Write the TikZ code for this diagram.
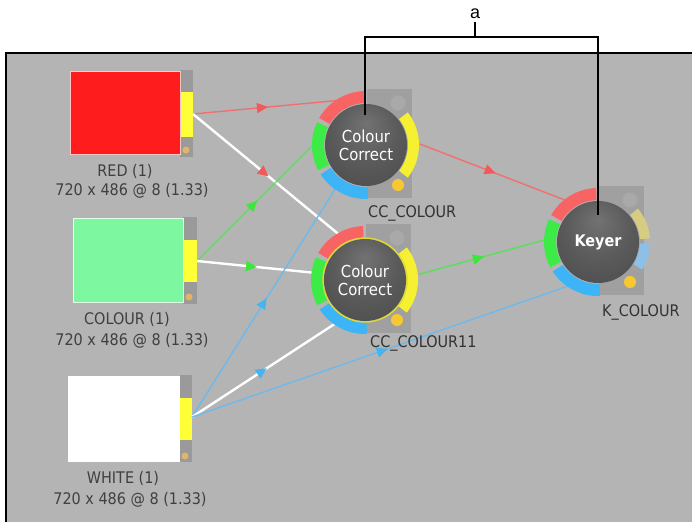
\documentclass[tikz,border=0pt]{standalone}
\usepackage{fontspec}
\newfontfamily\labfont{DejaVu Sans Condensed}
\newfontfamily\afont{Liberation Sans}
\usetikzlibrary{arrows.meta,decorations.markings}
\definecolor{panelc}{HTML}{B4B4B4}
\definecolor{stripc}{HTML}{9A9A9A}
\definecolor{rectc}{HTML}{A0A0A0}
\definecolor{faintc}{HTML}{A9A9A9}
\definecolor{boxred}{HTML}{FF1C1C}
\definecolor{boxmint}{HTML}{7DF7A0}
\definecolor{portyel}{HTML}{FFFF38}
\definecolor{dotor}{HTML}{E2B468}
\definecolor{dotyel}{HTML}{F8C832}
\definecolor{rred}{HTML}{F86464}
\definecolor{rgreen}{HTML}{3CEB46}
\definecolor{rblue}{HTML}{3CB4F5}
\definecolor{ryel}{HTML}{F5F032}
\definecolor{rpaley}{HTML}{D6CC82}
\definecolor{rpaleb}{HTML}{8CC0E6}
\definecolor{wred}{HTML}{F07070}
\definecolor{wgreen}{HTML}{5ADF5A}
\definecolor{wblue}{HTML}{6EB9EB}
\definecolor{ared}{HTML}{F05A5A}
\definecolor{agreen}{HTML}{3CE63C}
\definecolor{ablue}{HTML}{46B4F0}
\definecolor{labc}{HTML}{404040}
\definecolor{ballA}{HTML}{727272}
\definecolor{ballB}{HTML}{5A5A5A}
\definecolor{ballC}{HTML}{4B4B4B}
\definecolor{ballD}{HTML}{363636}
\pgfdeclarelayer{back}
\pgfdeclarelayer{wires}
\pgfsetlayers{back,wires,main}
\pgfdeclareradialshading{ballsh}{\pgfpoint{0bp}{14bp}}{color(0bp)=(ballA); color(20bp)=(ballB); color(38bp)=(ballC); color(50bp)=(ballD)}
\newcommand\ringseg[7]{\fill[#7] ([shift={(#1,#2)}]#3:#6) arc[start angle=#3,end angle=#4,radius=#6] -- ([shift={(#1,#2)}]#4:#5) arc[start angle=#4,end angle=#3,radius=#5] -- cycle;}
\newcommand\noderect[2]{\fill[rectc] (#1+1,#2+56) rectangle (#1+46,#2-53);
  \fill[faintc] (#1+32,#2+42) circle (7.5);
  \fill[dotyel] (#1+32,#2-40) circle (6);}
\begin{document}
\begin{tikzpicture}[x=1pt,y=1pt,
  imgbox/.style={rectangle, draw=white!75!#1, line width=0.8pt, fill=#1, inner sep=0pt},
  ball/.style={circle, minimum size=82pt, inner sep=0pt, shading=ballsh, text=white, align=center, font=\labfont\fontsize{16.5}{18}\selectfont},
  lab/.style={text=labc, font=\labfont\fontsize{16}{18}\selectfont, inner sep=0pt},
  wire/.style={line width=1.4pt, color=#1},
  fat/.style={line width=2.4pt, color=white},
  midarrow/.style={postaction={decorate,decoration={markings,mark=at position 0.52 with {\arrow{Triangle[length=11pt,width=10pt,color=#1,fill=#1]}}}}},
  bracket/.style={line width=1.3pt, color=black}]
\useasboundingbox (0,0) rectangle (692,-522);
\begin{pgfonlayer}{back}
\fill[panelc] (6,-53) rectangle (692,-522);
\draw[line width=1.3pt] (6,-522) -- (6,-53) -- (692,-53);
% image strips
\fill[stripc] (180,-70) rectangle (193,-157);
\fill[portyel] (181,-92) rectangle (193,-137);
\fill[dotor] (186,-150) circle (3.5);
\fill[stripc] (183,-217) rectangle (197,-304);
\fill[portyel] (184,-240) rectangle (197,-282);
\fill[dotor] (189,-297) circle (3.5);
\fill[stripc] (180,-375) rectangle (192,-462);
\fill[portyel] (180,-398) rectangle (192,-440);
\fill[dotor] (185,-456) circle (3.5);
\end{pgfonlayer}
% image boxes
\node[imgbox=boxred, minimum width=110pt, minimum height=83pt] (redimg) at (125,-112.5) {};
\node[imgbox=boxmint, minimum width=110pt, minimum height=84pt] (colimg) at (128,-260) {};
\node[imgbox=white, minimum width=111pt, minimum height=85pt] (whiimg) at (124,-418.5) {};
\coordinate (redport) at (193,-114);
\coordinate (colport) at (197,-261);
\coordinate (whiport) at (192,-417);
\node[lab] (redlab) at (125,-171) {RED (1)};
\node[lab] (redres) at (132,-191) {720 x 486 @ 8 (1.33)};
\node[lab] (collab) at (127,-319) {COLOUR (1)};
\node[lab] (colres) at (132,-341) {720 x 486 @ 8 (1.33)};
\node[lab] (whilab) at (123,-478) {WHITE (1)};
\node[lab] (whires) at (130,-500) {720 x 486 @ 8 (1.33)};
% Colour Correct 1
\noderect{366}{-145}
\ringseg{366}{-145}{92}{150}{42}{54}{rred}
\ringseg{366}{-145}{155}{208}{42}{54}{rgreen}
\ringseg{366}{-145}{213}{272}{42}{54}{rblue}
\ringseg{366}{-145}{-38}{38}{42}{53}{ryel}
\node[ball] (cc1) at (366,-145) {Colour\\Correct};
% Colour Correct 2
\noderect{365}{-280}
\ringseg{365}{-280}{92}{150}{42}{54}{rred}
\ringseg{365}{-280}{155}{208}{42}{54}{rgreen}
\ringseg{365}{-280}{213}{272}{42}{54}{rblue}
\ringseg{365}{-280}{-38}{38}{42}{53}{ryel}
\node[ball] (cc2) at (365,-280) {Colour\\Correct};
\draw[ryel!90!black, line width=1.4pt] (cc2.center) circle (42);
% Keyer
\noderect{598}{-242}
\ringseg{598}{-242}{92}{150}{42}{54}{rred}
\ringseg{598}{-242}{155}{208}{42}{54}{rgreen}
\ringseg{598}{-242}{213}{272}{42}{54}{rblue}
\ringseg{598}{-242}{4}{40}{42}{52}{rpaley}
\ringseg{598}{-242}{-32}{-2}{42}{52}{rpaleb}
\node[ball, font=\labfont\bfseries\fontsize{16}{18}\selectfont] (key) at (598,-242) {Keyer};
% node labels
\node[lab, text=black!80, anchor=west] (cc1lab) at (368,-213) {CC\_COLOUR};
\node[lab, text=black!80, anchor=west] (cc2lab) at (370,-343) {CC\_COLOUR11};
\node[lab, text=black!80, anchor=west] (keylab) at (602,-312) {K\_COLOUR};
% ring input / output points
\coordinate (cc1r) at ([shift={(123:53)}]cc1.center);
\coordinate (cc1g) at ([shift={(180:53)}]cc1.center);
\coordinate (cc1b) at ([shift={(235:53)}]cc1.center);
\coordinate (cc1o) at ([shift={(1:54)}]cc1.center);
\coordinate (cc2r) at ([shift={(120:53)}]cc2.center);
\coordinate (cc2g) at ([shift={(172:53)}]cc2.center);
\coordinate (cc2b) at ([shift={(236:52)}]cc2.center);
\coordinate (cc2o) at ([shift={(6:54)}]cc2.center);
\coordinate (keyr) at ([shift={(128:53)}]key.center);
\coordinate (keyg) at ([shift={(178:54)}]key.center);
\coordinate (keyb) at ([shift={(236:53)}]key.center);
\begin{pgfonlayer}{wires}
\draw[wire=wred, midarrow=ared] (redport) -- (cc1r);
\draw[fat, midarrow=ared] (redport) -- (cc2r);
\draw[wire=wgreen, midarrow=agreen] (colport) -- (cc1g);
\draw[fat, midarrow=agreen] (colport) -- (cc2g);
\draw[wire=wblue, midarrow=ablue] (whiport) -- (cc1b);
\draw[fat, midarrow=ablue] (whiport) -- (cc2b);
\draw[wire=wblue, midarrow=ablue] (whiport) -- (keyb);
\draw[wire=wred, midarrow=ared] (cc1o) -- (keyr);
\draw[wire=wgreen, midarrow=agreen] (cc2o) -- (keyg);
\end{pgfonlayer}
% bracket
\node[font=\afont\fontsize{18}{20}\selectfont, inner sep=0pt] (alab) at (475,-14) {a};
\coordinate (aL) at (365,-115);
\coordinate (aR) at (598,-215);
\coordinate (abar) at (475,-37);
\draw[bracket] (aL) |- (abar) -| (aR);
\draw[bracket] (abar) -- ([yshift=-3pt]alab.south);
\end{tikzpicture}
\end{document}
